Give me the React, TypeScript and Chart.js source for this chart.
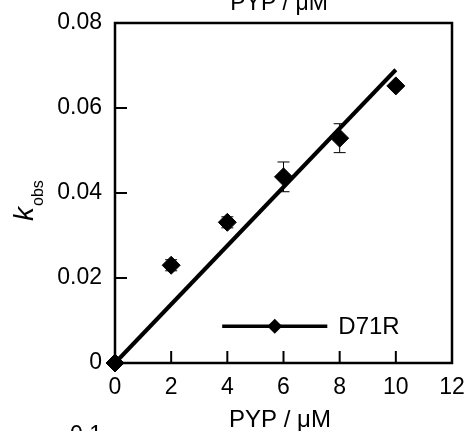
import { useEffect, useRef } from 'react';
import { Chart, registerables } from 'chart.js';

Chart.register(...registerables);

const concentrations = [0, 2, 4, 6, 8, 10];
const kobsValues = [0, 0.023, 0.0331, 0.0438, 0.0529, 0.0652];
const kobsErrors = [0, 0.0013, 0.0013, 0.0035, 0.0034, 0.0005];
const fitX = [0, 10];
const fitY = [0, 0.069];
const xTicks = [0, 2, 4, 6, 8, 10, 12];
const yTicks = [0, 0.02, 0.04, 0.06, 0.08];
const legendLabel = 'D71R';
const xAxisTitle = 'PYP / μM';
const nextPanelTick = '0.1';

const FONT = '"Liberation Sans", Arial, Helvetica, sans-serif';

const decorPlugin = {
  id: 'decor',
  beforeDatasetsDraw(chart: any) {
    const { ctx } = chart;
    const xs = chart.scales.x;
    const ys = chart.scales.y;
    ctx.save();
    ctx.strokeStyle = '#000';
    ctx.lineWidth = 1;
    concentrations.forEach((c, i) => {
      const e = kobsErrors[i];
      if (!e) return;
      const px = xs.getPixelForValue(c);
      const top = ys.getPixelForValue(kobsValues[i] + e);
      const bot = ys.getPixelForValue(kobsValues[i] - e);
      ctx.beginPath();
      ctx.moveTo(px, top);
      ctx.lineTo(px, bot);
      ctx.moveTo(px - 6, top);
      ctx.lineTo(px + 6, top);
      ctx.moveTo(px - 6, bot);
      ctx.lineTo(px + 6, bot);
      ctx.stroke();
    });
    ctx.restore();
  },
  afterDraw(chart: any) {
    const { ctx, chartArea } = chart;
    const { left, right, top, bottom } = chartArea;
    const xs = chart.scales.x;
    const ys = chart.scales.y;
    ctx.save();
    ctx.strokeStyle = '#000';
    ctx.fillStyle = '#000';
    // ticks inward
    ctx.lineWidth = 2;
    xTicks.forEach((t) => {
      if (t === xTicks[0] || t === xTicks[xTicks.length - 1]) return;
      const px = xs.getPixelForValue(t);
      ctx.beginPath();
      ctx.moveTo(px, bottom);
      ctx.lineTo(px, bottom - 12);
      ctx.stroke();
    });
    yTicks.forEach((t) => {
      if (t === yTicks[0] || t === yTicks[yTicks.length - 1]) return;
      const py = ys.getPixelForValue(t);
      ctx.beginPath();
      ctx.moveTo(left, py);
      ctx.lineTo(left + 12, py);
      ctx.stroke();
    });
    // box
    ctx.lineWidth = 2.5;
    ctx.strokeRect(left, top, right - left, bottom - top);

    // legend
    const ly = top + (bottom - top) * 0.892;
    const lx0 = left + (right - left) * 0.318;
    const lx1 = left + (right - left) * 0.63;
    const lxm = (lx0 + lx1) / 2;
    ctx.lineWidth = 3.5;
    ctx.beginPath();
    ctx.moveTo(lx0, ly);
    ctx.lineTo(lx1, ly);
    ctx.stroke();
    const r = 7.5;
    ctx.beginPath();
    ctx.moveTo(lxm, ly - r);
    ctx.lineTo(lxm + r, ly);
    ctx.lineTo(lxm, ly + r);
    ctx.lineTo(lxm - r, ly);
    ctx.closePath();
    ctx.fill();
    ctx.font = `24px ${FONT}`;
    ctx.textAlign = 'left';
    ctx.textBaseline = 'middle';
    ctx.fillText(legendLabel, lx1 + 11, ly + 1);

    // axis titles
    const cx = 280;
    ctx.textAlign = 'center';
    ctx.textBaseline = 'alphabetic';
    ctx.font = `24px ${FONT}`;
    ctx.fillText(xAxisTitle, cx, 427);
    ctx.font = `23px ${FONT}`;
    ctx.fillText(xAxisTitle, cx - 1, 10);

    // next panel tick fragment
    ctx.textAlign = 'right';
    ctx.font = `23px ${FONT}`;
    ctx.fillText(nextPanelTick, left - 13, 442);

    // y title k_obs
    ctx.save();
    ctx.translate(33, 221);
    ctx.rotate(-Math.PI / 2);
    ctx.textAlign = 'left';
    ctx.textBaseline = 'alphabetic';
    ctx.font = `italic 28px ${FONT}`;
    ctx.fillText('k', 0, 0);
    const kw = ctx.measureText('k').width;
    ctx.font = `16px ${FONT}`;
    ctx.fillText('obs', kw + 1, 10);
    ctx.restore();

    ctx.restore();
  },
};

export default function App() {
  const ref = useRef<HTMLCanvasElement | null>(null);
  useEffect(() => {
    if (!ref.current) return;
    const chart = new Chart(ref.current, {
      type: 'scatter',
      data: {
        datasets: [
          {
            type: 'line',
            label: 'fit',
            data: fitX.map((x, i) => ({ x, y: fitY[i] })),
            borderColor: '#000',
            borderWidth: 4,
            pointRadius: 0,
            fill: false,
            clip: false as any,
          } as any,
          {
            label: legendLabel,
            data: concentrations.map((x, i) => ({ x, y: kobsValues[i] })),
            pointStyle: 'rectRot',
            pointRadius: 9,
            backgroundColor: '#000',
            borderColor: '#000',
            borderWidth: 1,
            clip: false as any,
          } as any,
        ],
      },
      options: {
        animation: false,
        responsive: true,
        maintainAspectRatio: false,
        layout: { padding: { top: 23, right: 16, left: 0, bottom: 0 } },
        plugins: { legend: { display: false }, tooltip: { enabled: false } },
        scales: {
          x: {
            type: 'linear',
            min: 0,
            max: 12,
            afterBuildTicks: (scale: any) => {
              scale.ticks = xTicks.map((v) => ({ value: v }));
            },
            ticks: {
              stepSize: 2,
              color: '#000',
              font: { size: 23, family: FONT },
              padding: 11,
              maxRotation: 0,
              callback: (v: any) => String(v),
            },
            grid: { display: false, drawTicks: false },
            border: { display: false },
            afterFit: (scale: any) => {
              scale.height = 68;
              scale.paddingLeft = 0;
              scale.paddingRight = 0;
            },
          },
          y: {
            type: 'linear',
            min: 0,
            max: 0.08,
            afterBuildTicks: (scale: any) => {
              scale.ticks = yTicks.map((v) => ({ value: v }));
            },
            ticks: {
              stepSize: 0.02,
              color: '#000',
              font: { size: 23, family: FONT },
              padding: 13,
              callback: (v: any) => (Number(v) === 0 ? '0' : Number(v).toFixed(2)),
            },
            grid: { display: false, drawTicks: false },
            border: { display: false },
            afterFit: (scale: any) => {
              scale.width = 115;
              scale.paddingTop = 0;
              scale.paddingBottom = 0;
            },
          },
        },
      },
      plugins: [decorPlugin],
    });
    return () => chart.destroy();
  }, []);
  return (
    <div style={{ position: 'absolute', left: 0, top: 0, width: 468, height: 431, background: '#fff' }}>
      <canvas ref={ref} />
    </div>
  );
}
